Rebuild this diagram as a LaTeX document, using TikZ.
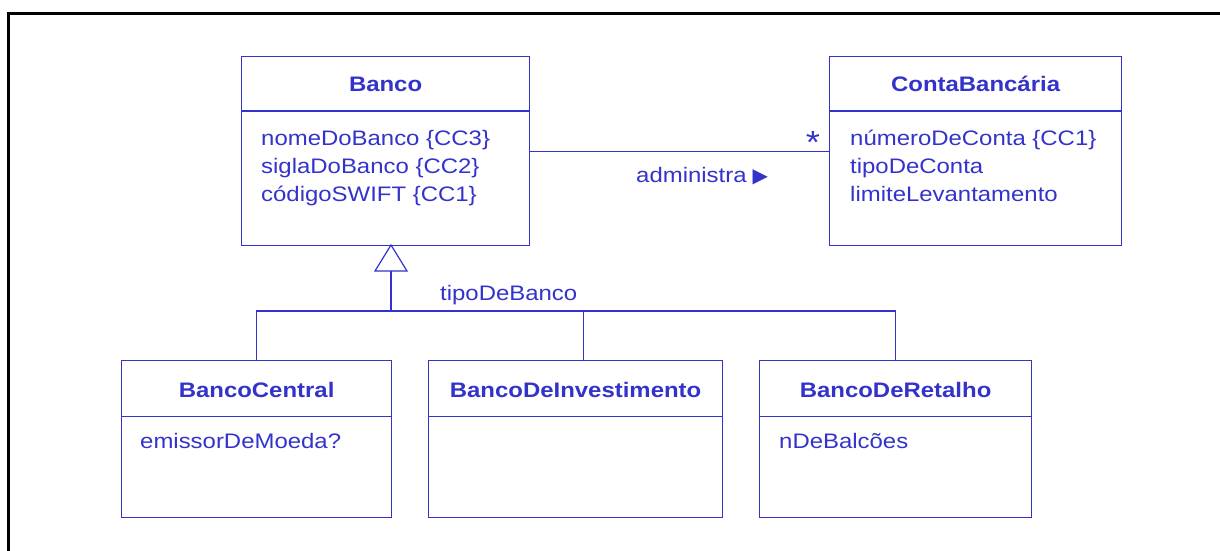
\documentclass[tikz,border=0pt]{standalone}
\usepackage{fontspec}
\usetikzlibrary{calc}
\setmainfont{Liberation Sans}[FakeStretch=1.14]
\newfontfamily\symfont{DejaVu Sans}
\definecolor{umlblue}{RGB}{51,51,204}
\tikzset{
  classbox/.style={draw=umlblue, line width=1.2pt, rectangle, inner sep=0pt, anchor=north west},
  umlline/.style={draw=umlblue, line width=1.2pt},
  ctitle/.style={inner sep=0pt, anchor=base, text=umlblue, font=\fontsize{21}{28}\selectfont\bfseries},
  attr/.style={inner sep=0pt, anchor=base west, text=umlblue, font=\fontsize{21}{28}\selectfont},
}
\begin{document}
\begin{tikzpicture}[x=1pt, y=-1pt]
  \clip (0,0) rectangle (1220,551);
  \fill[white] (0,0) rectangle (1220,551);
  % frame
  \draw[black, line width=3pt] (8,14) rectangle (1260,600);

  % classes
  \node[classbox, minimum width=288pt, minimum height=189pt] (banco) at (241,56) {};
  \node[classbox, minimum width=292pt, minimum height=189pt] (conta) at (829,56) {};
  \node[classbox, minimum width=270pt, minimum height=157pt] (central) at (121,360) {};
  \node[classbox, minimum width=294pt, minimum height=157pt] (invest) at (428,360) {};
  \node[classbox, minimum width=272pt, minimum height=157pt] (retalho) at (759,360) {};

  % compartment dividers
  \draw[umlline] (banco.west |- 0,111) -- (banco.east |- 0,111);
  \draw[umlline] (conta.west |- 0,111) -- (conta.east |- 0,111);
  \draw[umlline] (central.west |- 0,416.5) -- (central.east |- 0,416.5);
  \draw[umlline] (invest.west |- 0,416.5) -- (invest.east |- 0,416.5);
  \draw[umlline] (retalho.west |- 0,416.5) -- (retalho.east |- 0,416.5);

  % class names
  \node[ctitle] (tBanco) at (banco.north |- 0,92) {Banco};
  \node[ctitle] (tConta) at (conta.north |- 0,92) {ContaBancária};
  \node[ctitle] (tCentral) at (central.north |- 0,397) {BancoCentral};
  \node[ctitle] (tInvest) at (invest.north |- 0,397) {BancoDeInvestimento};
  \node[ctitle] (tRetalho) at (retalho.north |- 0,397) {BancoDeRetalho};

  % attributes
  \node[attr] (aB1) at (261,145) {nomeDoBanco \{CC3\}};
  \node[attr] (aB2) at (261,173) {siglaDoBanco \{CC2\}};
  \node[attr] (aB3) at (261,201) {códigoSWIFT \{CC1\}};
  \node[attr] (aC1) at (850,145) {númeroDeConta \{CC1\}};
  \node[attr] (aC2) at (850,173) {tipoDeConta};
  \node[attr] (aC3) at (850,201) {limiteLevantamento};
  \node[attr] (aCe1) at (140,448.5) {emissorDeMoeda?};
  \node[attr] (aR1) at (779,448.5) {nDeBalcões};

  % association
  \draw[umlline] (banco.east) -- (conta.west);
  \node[attr, anchor=base, font=\fontsize{32}{32}\selectfont] (mult) at (813,153) {*};
  \node[attr] (assocLbl) at (636,182) {administra\hspace{6pt}{\symfont\fontsize{20}{20}\selectfont ▶}};

  % generalization
  \coordinate (apex) at (391,245);
  \coordinate (triL) at (375,271);
  \coordinate (triR) at (407,271);
  \coordinate (triB) at (391,271);
  \coordinate (bus) at (391,311);
  \coordinate (investTop) at ($(invest.north)+(8,0)$);
  \draw[umlline, line join=miter] (apex) -- (triL) -- (triR) -- cycle;
  \draw[umlline] (triB) -- (bus);
  \draw[umlline] (central.north) -- (central.north |- bus) -- (retalho.north |- bus) -- (retalho.north);
  \draw[umlline] (investTop) -- (investTop |- bus);
  \node[attr] (genLbl) at (440,300) {tipoDeBanco};
\end{tikzpicture}
\end{document}
